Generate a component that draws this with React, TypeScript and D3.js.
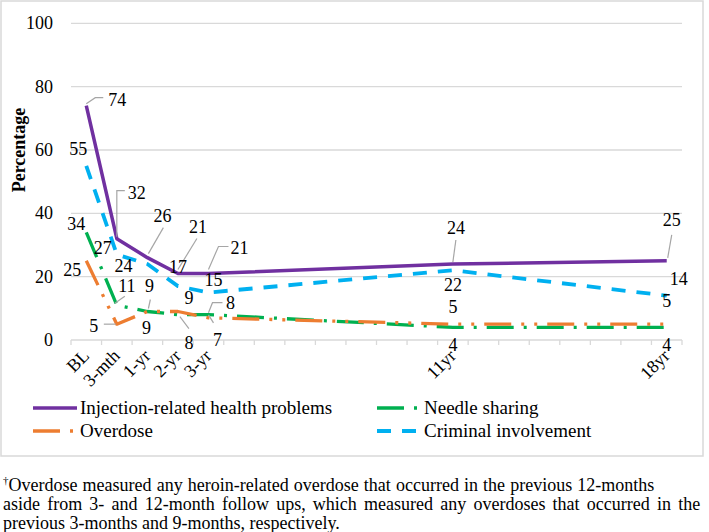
import React from 'react';
import * as d3 from 'd3';

// category slots of the Excel line chart (blank slots are unlabeled years)
const categories = ["BL", "3-mth", "1-yr", "2-yr", "3-yr", "", "", "", "", "", "", "", "11yr", "", "", "", "", "", "", "18yr"];

const injection = [74, 32, 26, 21, 21, null, null, null, null, null, null, null, 24, null, null, null, null, null, null, 25];
const needle = [34, 11, 9, 8, 8, null, null, null, null, null, null, null, 4, null, null, null, null, null, null, 4];
const overdose = [25, 5, 9, 9, 7, null, null, null, null, null, null, null, 5, null, null, null, null, null, null, 5];
const criminal = [55, 27, 24, 17, 15, null, null, null, null, null, null, null, 22, null, null, null, null, null, null, 14];

const yTicks = [0, 20, 40, 60, 80, 100];

const footnote = [
    "Overdose measured any heroin-related overdose that occurred in the previous 12-months",
    "aside from 3- and 12-month follow ups, which measured any overdoses that occurred in the",
    "previous 3-months and 9-months, respectively.",
];
const footSpacing = [0.6, 2.7, 0];

type Lab = { dx: number; dy: number; leader?: number[][] };

const series = [
    {
        name: "Injection-related health problems", values: injection, color: "#7030a0", width: 3.5, dash: null as string | null,
        labels: [
            { dx: 31, dy: -6, leader: [[0, -2], [9, -8], [17, -8]] },
            { dx: 20, dy: -46, leader: [[0, -2], [0, -48], [8, -48]] },
            { dx: 15, dy: -42, leader: [[1, -4], [16, -30]] },
            { dx: 20, dy: -47, leader: [[0, -4], [19, -35]] },
            { dx: 31, dy: -26, leader: [[0, -4], [10, -27], [20, -27]] },
            { dx: 3, dy: -36, leader: [[0, -2], [3, -24]] },
            { dx: 5, dy: -41, leader: [[1, -3], [5, -26]] },
        ] as Lab[],
    },
    {
        name: "Needle sharing", values: needle, color: "#00b050", width: 3.3, dash: "27 10 3 10",
        labels: [
            { dx: -10, dy: -8 },
            { dx: 10, dy: -19, leader: [[-2, -2], [8, -9]] },
            { dx: -1, dy: 16 },
            { dx: 11, dy: 28, leader: [[2, 2], [11, 14]] },
            { dx: 22, dy: -12, leader: [[0, -2], [4, -12], [14, -12]] },
            { dx: 0, dy: 18 },
            { dx: 0, dy: 18 },
        ] as Lab[],
    },
    {
        name: "Overdose", values: overdose, color: "#ed7d31", width: 3.3, dash: "27 10 3 10 3 10",
        labels: [
            { dx: -14, dy: 9 },
            { dx: -23, dy: 2, leader: [[-1, 0], [-13, 0]] },
            { dx: 2, dy: -26, leader: [[1, -3], [3, -12]] },
            { dx: 11, dy: -14 },
            { dx: 9, dy: 22, leader: [[0, -3], [5, 5]] },
            { dx: 0, dy: -17 },
            { dx: 0, dy: -23 },
        ] as Lab[],
    },
    {
        name: "Criminal involvement", values: criminal, color: "#00b0f0", width: 3.8, dash: "14 11",
        labels: [
            { dx: -8, dy: -17 },
            { dx: -14, dy: -7 },
            { dx: -24, dy: 2 },
            { dx: 0, dy: -19 },
            { dx: 5, dy: -13 },
            { dx: 0, dy: 15 },
            { dx: 12, dy: -17 },
        ] as Lab[],
    },
];

const font = "'Liberation Serif', 'Times New Roman', serif";

export default function App() {
    const x = d3.scaleBand<number>().domain(d3.range(categories.length)).range([71, 682]).paddingInner(0).paddingOuter(0);
    const cx = (i: number) => (x(i) as number) + x.bandwidth() / 2;
    const y = d3.scaleLinear().domain([0, 100]).range([340, 23.3]);

    const line = d3.line<{ i: number; v: number }>().x(d => cx(d.i)).y(d => y(d.v));

    const tickXs = d3.range(categories.length + 1).map(i => i < categories.length ? (x(i) as number) : 682);

    return (
        <svg width={709} height={532} style={{ position: 'absolute', left: 0, top: 0 }} fontFamily={font}>
            <rect x={0} y={0} width={709} height={532} fill="#fff" />
            <rect x={1} y={1} width={702} height={455} fill="#fff" stroke="#d9d9d9" strokeWidth={1.5} />

            {/* gridlines */}
            {yTicks.filter(t => t > 0).map(t => (
                <line key={t} x1={71} x2={682} y1={y(t)} y2={y(t)} stroke="#d9d9d9" strokeWidth={1.3} />
            ))}
            {/* y tick labels */}
            {yTicks.map(t => (
                <text key={t} x={53} y={y(t)} dy="0.34em" textAnchor="end" fontSize={18} fill="#000">{t}</text>
            ))}
            <text transform={`translate(25,150) rotate(-90)`} textAnchor="middle" fontSize={18} fontWeight="bold">Percentage</text>

            {/* x axis */}
            <line x1={71} x2={682} y1={340} y2={340} stroke="#d9d9d9" strokeWidth={1.3} />
            {tickXs.map((tx, i) => (
                <line key={i} x1={tx} x2={tx} y1={340} y2={345} stroke="#d9d9d9" strokeWidth={1.3} />
            ))}
            {categories.map((c, i) => c ? (
                <text key={i} transform={`translate(${cx(i) + 4},357) rotate(-45)`} textAnchor="end" fontSize={18}>{c}</text>
            ) : null)}

            {/* lines */}
            {series.map(s => {
                const pts = s.values.map((v, i) => ({ i, v: v as number })).filter(d => s.values[d.i] !== null);
                return (
                    <path key={s.name} d={line(pts) || ''} fill="none" stroke={s.color} strokeWidth={s.width}
                        strokeDasharray={s.dash || undefined} strokeLinejoin="round" />
                );
            })}

            {/* data labels */}
            {series.map(s => {
                const pts = s.values.map((v, i) => ({ i, v: v as number })).filter(d => s.values[d.i] !== null);
                return (
                    <g key={s.name + '-lab'}>
                        {pts.map((p, j) => {
                            const lab = s.labels[j];
                            const px = cx(p.i), py = y(p.v);
                            return (
                                <g key={j}>
                                    {lab.leader && (
                                        <polyline points={lab.leader.map(q => `${px + q[0]},${py + q[1]}`).join(' ')}
                                            fill="none" stroke="#a6a6a6" strokeWidth={1.2} />
                                    )}
                                    <text x={px + lab.dx} y={py + lab.dy} dy="0.34em" textAnchor="middle" fontSize={18}>{p.v}</text>
                                </g>
                            );
                        })}
                    </g>
                );
            })}

            {/* legend */}
            {series.map((s, k) => {
                const col = k % 2, row = Math.floor(k / 2);
                const lx = col === 0 ? 33 : 377;
                const ly = 408 + row * 23;
                return (
                    <g key={s.name + '-leg'}>
                        <line x1={lx} x2={lx + 44} y1={ly} y2={ly} stroke={s.color} strokeWidth={s.width}
                            strokeDasharray={s.dash || undefined} />
                        <text x={lx + 47} y={ly} dy="0.34em" fontSize={19}>{s.name}</text>
                    </g>
                );
            })}

            {/* footnote */}
            {footnote.map((t, i) => (
                <text key={i} x={3} y={491 + i * 19} fontSize={18} wordSpacing={footSpacing[i]}>
                    {i === 0 && <tspan fontSize={11} dy={-7}>†</tspan>}
                    {i === 0 ? <tspan dy={7}>{t}</tspan> : t}
                </text>
            ))}
        </svg>
    );
}
